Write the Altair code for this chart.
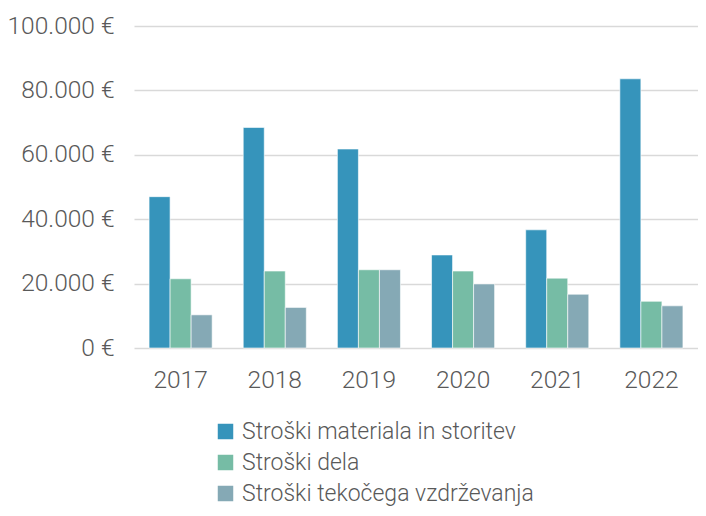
import altair as alt
import pandas as pd

years = ["2017", "2018", "2019", "2020", "2021", "2022"]
series = ["Stroški materiala in storitev", "Stroški dela", "Stroški tekočega vzdrževanja"]
material = [47000, 68500, 61800, 28900, 36700, 83600]
dela = [21500, 23900, 24300, 23900, 21700, 14500]
vzdrz = [10300, 12600, 24300, 19900, 16700, 13100]
colors = ["#3694BB", "#76BCA5", "#85A9B5"]

rows = []
for i, y in enumerate(years):
    for s, vals in zip(series, [material, dela, vzdrz]):
        rows.append({"leto": y, "serija": s, "vrednost": vals[i]})
df = pd.DataFrame(rows)

font = "Roboto"
tc = "#595959"

chart = alt.Chart(df).mark_bar(stroke="white", strokeWidth=0.6).encode(
    x=alt.X("leto:N", sort=years, title=None,
            scale=alt.Scale(paddingInner=0.33, paddingOuter=0.16),
            axis=alt.Axis(labelAngle=0, domain=False, ticks=False, labelFontSize=24.5,
                          labelColor=tc, labelFont=font, labelFontWeight=300,
                          labelPadding=20)),
    xOffset=alt.XOffset("serija:N", sort=series),
    y=alt.Y("vrednost:Q", title=None,
            scale=alt.Scale(domain=[0, 100000]),
            axis=alt.Axis(values=[0, 20000, 40000, 60000, 80000, 100000],
                          labelExpr="replace(format(datum.value, ','), ',', '.') + ' €'",
                          domain=False, ticks=False, labelFontSize=24.5, labelColor=tc,
                          labelFont=font, labelFontWeight=300, labelPadding=20,
                          gridColor="#D9D9D9", gridWidth=1.5)),
    color=alt.Color("serija:N", sort=series, title=None,
                    scale=alt.Scale(domain=series, range=colors),
                    legend=alt.Legend(orient="none", legendX=80, legendY=394,
                                      direction="vertical", symbolType="square",
                                      symbolSize=240, symbolStrokeWidth=0,
                                      labelFontSize=23, labelColor=tc, labelFont=font,
                                      labelFontWeight=300, labelLimit=0,
                                      rowPadding=7, labelOffset=5, symbolOpacity=1)),
).properties(width=564, height=322, autosize="none",
             padding={"left": 126, "top": 18, "right": 0, "bottom": 160}
).configure_view(stroke=None)

chart.save("out.html", embed_options={"renderer": "svg", "actions": False})
